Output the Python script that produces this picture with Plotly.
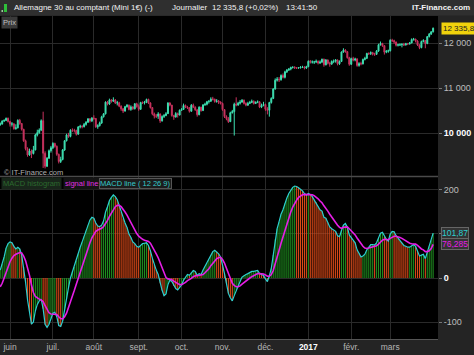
import pandas as pd
import plotly.graph_objects as go

# ---------------- data ----------------
start_date = "2016-05-25"
end_date = "2017-03-31"

open_ = [10190,10205,10272,10286,10333,10263,10204,10208,10103,10121,10288,10217,10088,9834,9657,9519,9606,9550,9631,9962,10015,10071,10280,9557,9268,9448,9612,9680,9776,9710,9532,9373,9418,9629,9833,9964,9930,10068,10066,10063,9981,10142,10156,10147,10198,10247,10319,10275,
10337,10330,10144,10170,10228,10367,10432,10693,10650,10742,10713,10739,10676,10679,10603,10544,10494,10592,10623,10530,10587,10545,10657,10592,10534,10683,10672,10687,10752,10675,10573,10432,10386,10379,10431,10276,10373,10393,10436,10674,10627,10394,10361,10438,10405,
10511,10530,10619,10585,10568,10490,10624,10577,10523,10414,10580,10504,10631,10645,10701,10711,10761,10757,10709,10717,10696,10665,10526,10370,10325,10259,10456,10482,10646,10630,10668,10693,10735,10663,10626,10665,10685,10713,10662,10689,10700,10582,10620,
10640,10534,10513,10684,10775,10986,11179,11203,11190,11285,11244,11366,11404,11427,11464,11468,11456,11450,11455,11473,11475,11451,11481,11599,11584,11585,11585,11599,11563,11583,11646,11522,11630,11555,11541,11599,11599,11630,11545,11595,11807,11848,11815,11681,
11535,11659,11627,11651,11509,11549,11543,11642,11666,11774,11771,11793,11757,11757,11827,11967,11998,11947,11804,11822,11834,12067,12060,12027,11958,11967,11967,11978,11963,11990,11988,12009,12083,12095,12052,11962,11904,12040,12064,11996,12149,12204,12256]

high = [10240,10290,10310,10350,10350,10280,10250,10230,10200,10310,10320,10230,10100,9860,9690,9660,9640,9720,9990,10080,10110,10310,10480,9600,9470,9640,9720,9800,9790,9730,9550,9480,9650,9850,9990,10010,10090,10110,10100,10080,10160,10190,10180,10230,10270,10340,10340,10360,
10400,10340,10200,10260,10390,10450,10710,10720,10770,10760,10800,10760,10720,10700,10620,10560,10610,10650,10640,10620,10600,10670,10680,10640,10700,10710,10720,10770,10770,10690,10580,10460,10430,10470,10440,10400,10430,10470,10690,10690,10630,10410,10470,10460,10530,
10560,10660,10640,10610,10580,10650,10660,10600,10530,10600,10590,10650,10680,10720,10740,10800,10810,10770,10760,10740,10710,10680,10540,10400,10360,10480,10520,10680,10800,10700,10740,10760,10750,10690,10700,10720,10750,10730,10710,10730,10710,10660,10700,
10660,10580,10700,10800,11000,11220,11250,11250,11310,11330,11390,11430,11450,11480,11490,11490,11470,11470,11490,11500,11490,11500,11620,11630,11620,11610,11640,11620,11620,11660,11660,11650,11640,11590,11620,11640,11650,11640,11620,11820,11890,11870,11830,11700,
11680,11700,11680,11670,11580,11590,11660,11700,11790,11800,11820,11810,11790,11850,11990,12040,12010,11960,11850,11860,12090,12100,12080,12040,11990,12000,12000,12010,12010,12010,12030,12110,12120,12100,12070,11980,12060,12090,12070,12160,12230,12270,12350]

low = [10170,10195,10250,10270,10240,10150,10150,10080,10080,10110,10190,10060,9810,9620,9480,9500,9450,9530,9620,9930,9990,10050,9230,9220,9250,9430,9570,9650,9680,9500,9330,9340,9400,9610,9820,9900,9910,10030,10020,9950,9970,10110,10110,10130,10170,10230,10240,10250,
10300,10120,10100,10150,10210,10350,10420,10620,10630,10680,10700,10650,10620,10580,10500,10450,10480,10570,10510,10500,10520,10530,10570,10500,10520,10650,10640,10670,10650,10550,10400,10330,10340,10320,10230,10260,10340,10380,10430,10600,10370,10300,10350,10350,10400,
10500,10520,10560,10540,10460,10480,10560,10500,10370,10400,10480,10500,10610,10620,10660,10700,10730,10680,10680,10650,10640,10500,10340,10290,10230,10250,10440,9950,10600,10610,10640,10680,10640,10600,10610,10650,10670,10640,10650,10670,10560,10560,10600,
10500,10420,10370,10660,10760,10970,11150,11140,11170,11220,11220,11340,11390,11400,11440,11430,11430,11440,11440,11450,11420,11430,11470,11550,11550,11540,11560,11530,11540,11560,11480,11510,11530,11480,11520,11560,11570,11510,11520,11590,11790,11790,11660,11500,
11520,11600,11600,11480,11480,11510,11530,11620,11650,11740,11740,11730,11720,11740,11810,11950,11920,11750,11780,11790,11820,12030,11990,11930,11930,11940,11910,11940,11950,11960,11970,12000,12060,12020,11940,11870,11890,12020,11890,11980,12130,12190,12240]

close = [10205,10272,10286,10333,10263,10204,10208,10103,10121,10288,10217,10088,9834,9657,9519,9606,9550,9631,9962,10015,10071,10280,9557,9268,9448,9612,9680,9776,9710,9532,9373,9418,9629,9833,9964,9930,10068,10066,10063,9981,10142,10156,10147,10198,10247,10319,10275,10337,
10330,10144,10170,10228,10367,10432,10693,10650,10742,10713,10739,10676,10679,10603,10544,10494,10592,10623,10530,10587,10545,10657,10592,10534,10683,10672,10687,10752,10675,10573,10432,10386,10379,10431,10276,10373,10393,10436,10674,10627,10394,10361,10438,10405,10511,
10530,10619,10585,10568,10490,10624,10577,10523,10414,10580,10504,10631,10645,10701,10711,10761,10757,10709,10717,10696,10665,10526,10370,10325,10259,10456,10482,10646,10630,10668,10693,10735,10663,10626,10665,10685,10713,10662,10689,10700,10582,10620,10640,
10534,10513,10684,10775,10986,11179,11203,11190,11285,11244,11366,11404,11427,11464,11468,11456,11450,11455,11473,11475,11451,11481,11599,11584,11585,11585,11599,11563,11583,11646,11522,11630,11555,11541,11599,11599,11630,11545,11595,11807,11848,11815,11681,11535,
11659,11627,11651,11509,11549,11543,11642,11666,11774,11771,11793,11757,11757,11827,11967,11998,11947,11804,11822,11834,12067,12060,12027,11958,11967,11967,11978,11963,11990,11988,12009,12083,12095,12052,11962,11904,12040,12064,11996,12149,12204,12256,12335.8]

macd = [18,32,48,68,78,82,80,72,66,70,66,52,25,-10,-50,-75,-105,-100,-75,-60,-52,-48,-70,-105,-112,-105,-92,-80,-78,-88,-108,-110,-98,-70,-48,-22,0,15,25,40,55,70,82,95,108,120,132,138,
136,125,118,117,120,130,150,162,176,183,189,185,178,165,150,135,125,115,100,92,82,78,72,70,75,78,79,80,74,62,45,30,18,8,-12,-28,-40,-36,-15,-5,-8,-18,-24,-27,-22,
-16,-5,3,8,6,13,17,15,6,10,8,18,26,34,42,52,60,63,60,55,48,32,10,-12,-35,-45,-52,-40,-28,-18,-8,2,6,8,10,12,15,15,16,17,10,7,6,
-2,-8,5,22,52,88,112,128,145,155,170,182,192,200,206,209,208,205,202,198,192,188,192,190,185,178,172,163,155,152,138,136,126,116,112,108,106,96,94,108,120,124,116,98,
92,84,80,64,56,48,50,54,64,70,76,76,75,80,92,102,104,94,88,84,100,106,105,96,90,84,80,74,72,70,70,74,76,72,62,50,52,54,44,58,72,86,101.87]

signal = [-20,-12,0,13,26,37,45,51,54,57,58,57,50,39,23,6,-16,-33,-42,-46,-48,-50,-54,-63,-73,-79,-82,-82,-82,-83,-88,-92,-93,-88,-80,-68,-55,-41,-28,-14,0,14,28,41,54,67,80,91,
100,106,109,111,113,117,123,131,140,148,156,162,165,165,162,157,150,143,134,126,117,109,101,95,91,88,86,85,83,79,72,64,55,46,35,22,10,1,-2,-3,-4,-7,-10,-13,-15,
-15,-13,-10,-6,-4,-1,3,5,5,6,6,8,12,16,21,28,34,40,44,46,47,42,34,22,10,-2,-12,-17,-20,-20,-18,-14,-10,-6,-3,0,3,6,8,10,10,10,9,
7,4,4,8,17,31,47,63,79,94,109,124,137,150,161,170,177,183,187,189,190,190,190,190,189,187,184,180,175,171,164,159,152,145,138,132,127,120,115,113,115,116,116,112,
108,103,98,91,84,77,72,68,67,68,69,70,71,73,77,82,86,88,88,87,90,93,95,95,94,92,90,87,84,81,79,78,78,77,74,69,66,64,60,60,62,67,76.285]

month_labels = ["juin", "juil.", "août", "sept.", "oct.", "nov.", "déc.",
                "<b><span style='color:#ffffff'>2017</span></b>", "févr.", "mars"]
price_ticks = [10000, 11000, 12000]
price_tick_text = ["<b><span style='color:#ffffff'>10 000</span></b>", "11 000", "12 000"]
macd_ticks = [200, 100, 0, -100]
macd_tick_text = ["200", "", "<b><span style='color:#ffffff'>0</span></b>", "-100"]
last_price_text = "12 335,8"
macd_last_text = "101,87"
signal_last_text = "76,285"

# ---------------- build ----------------
dates = pd.bdate_range(start_date, end_date)
xi = list(range(len(dates)))
tickvals = [i for i in range(1, len(dates)) if dates[i].month != dates[i - 1].month]

UP = "#3fe0b2"
DN = "#c8325e"
CYAN = "#2ccfd0"
MAG = "#e61ee6"
GRID = "#2a2a2a"
STRIP = "#242424"
BARG = "#1f8c1f"
BARR = "#dc4a18"

fig = go.Figure()
fig.add_trace(go.Candlestick(
    x=xi, open=open_, high=high, low=low, close=close, xaxis="x", yaxis="y",
    increasing=dict(line=dict(color=UP, width=1), fillcolor=UP),
    decreasing=dict(line=dict(color=DN, width=1), fillcolor=DN),
    whiskerwidth=0, showlegend=False, hoverinfo="skip"))

# MACD histogram: one thin stem per session, green when MACD rises, red when it falls
for col, rising in ((BARG, True), (BARR, False)):
    sx, sy = [], []
    for i in xi:
        up = i == 0 or macd[i] >= macd[i - 1]
        if up == rising:
            sx += [i, i, None]
            sy += [0, macd[i], None]
    fig.add_trace(go.Scatter(x=sx, y=sy, xaxis="x2", yaxis="y2", mode="lines",
                             line=dict(color=col, width=1.1), showlegend=False,
                             hoverinfo="skip", connectgaps=False))

fig.add_trace(go.Scatter(x=xi, y=macd, xaxis="x2", yaxis="y2", mode="lines",
                         line=dict(color=CYAN, width=1.2), showlegend=False, hoverinfo="skip"))
fig.add_trace(go.Scatter(x=xi, y=signal, xaxis="x2", yaxis="y2", mode="lines",
                         line=dict(color=MAG, width=1.6), showlegend=False, hoverinfo="skip"))

W, H = 474, 355
ML, MR, MT, MB = 0, 36, 16, 16
PH = H - MT - MB  # 323
PW = W - ML - MR  # 438
price_dom = [(339 - 176) / PH, 1]
macd_dom = [0, (339 - 177) / PH]

xr = [-0.13, 224.5]
FF = "Liberation Sans, Arial, sans-serif"
axfont = dict(family=FF, size=9, color="#bdbdbd")

fig.update_layout(
    width=W, height=H, autosize=False,
    margin=dict(l=ML, r=MR, t=MT, b=MB, pad=0),
    paper_bgcolor=STRIP, plot_bgcolor="#000000",
    showlegend=False, hovermode=False,
    xaxis=dict(domain=[0, 1], anchor="y", range=xr, tickvals=tickvals, showticklabels=False,
               showgrid=True, gridcolor=GRID, gridwidth=1, zeroline=False, ticks="",
               rangeslider=dict(visible=False), fixedrange=True),
    xaxis2=dict(domain=[0, 1], anchor="y2", matches="x", range=xr, tickvals=tickvals,
                ticktext=month_labels, tickfont=dict(family=FF, size=8.5, color="#b5b5b5"),
                showgrid=True, gridcolor=GRID,
                zeroline=False, ticks="", showline=True, linecolor="#555555", linewidth=1,
                fixedrange=True),
    yaxis=dict(domain=price_dom, anchor="x", range=[9051, 12607], side="right",
               tickvals=price_ticks, ticktext=price_tick_text, tickfont=axfont,
               showgrid=True, gridcolor=GRID, zeroline=False, ticks="outside",
               ticklen=3, tickcolor="#777777", fixedrange=True),
    yaxis2=dict(domain=macd_dom, anchor="x2", range=[-138.6, 229.5], side="right",
                tickvals=macd_ticks, ticktext=macd_tick_text, tickfont=axfont,
                showgrid=True, gridcolor=GRID, zeroline=False, ticks="outside",
                ticklen=3, tickcolor="#777777", fixedrange=True),
)

def py(pix):
    """page pixel row -> paper y"""
    return (H - MB - pix) / PH

def px(pix):
    return (pix - ML) / PW

shapes = [
    dict(type="rect", xref="paper", yref="paper", x0=px(0), x1=px(W), y0=py(15.5), y1=py(0),
         fillcolor="#2f2f2f", line=dict(width=0), layer="above"),
    dict(type="line", xref="paper", yref="paper", x0=0, x1=1, y0=py(176.5), y1=py(176.5),
         line=dict(color="#4a4a4a", width=1.5), layer="above"),
    dict(type="rect", xref="paper", yref="paper", x0=px(4), x1=px(7), y0=py(12), y1=py(4),
         fillcolor="#2fbf3a", line=dict(width=0), layer="above"),
    dict(type="rect", xref="paper", yref="paper", x0=px(1.5), x1=px(3), y0=py(12), y1=py(10),
         fillcolor="#9ad09a", line=dict(width=0), layer="above"),
]
fig.update_layout(shapes=shapes)

tfont = dict(family=FF, size=8, color="#f2f2f2")
ann = [
    dict(text="Allemagne 30 au comptant (Mini 1€) (-)", x=px(12), y=py(7.5), xanchor="left"),
    dict(text="Journalier", x=px(170), y=py(7.5), xanchor="left"),
    dict(text="12 335,8 (+0,02%)", x=px(210), y=py(7.5), xanchor="left"),
    dict(text="13:41:50", x=px(284), y=py(7.5), xanchor="left"),
    dict(text="<b>IT-Finance.com</b>", x=px(472), y=py(7.5), xanchor="right"),
]
annotations = []
for a in ann:
    annotations.append(dict(xref="paper", yref="paper", yanchor="middle", showarrow=False,
                            font=tfont, **a))
small = dict(family=FF, size=7.5)
annotations += [
    dict(text="Prix", xref="paper", yref="paper", x=px(1), y=py(16), xanchor="left", yanchor="top",
         showarrow=False, bgcolor="#3a3a3a", font=dict(small, color="#c0c0c0"), borderpad=1),
    dict(text="© IT-Finance.com", xref="paper", yref="paper", x=px(2), y=py(172.5), xanchor="left",
         yanchor="middle", showarrow=False, font=dict(small, color="#b0b0b0")),
    dict(text="MACD histogram", xref="paper", yref="paper", x=px(1), y=py(183), xanchor="left",
         yanchor="middle", showarrow=False, bgcolor="#18261a", font=dict(small, color="#2c6a2e"),
         borderpad=1),
    dict(text="signal line", xref="paper", yref="paper", x=px(63), y=py(183), xanchor="left",
         yanchor="middle", showarrow=False, bgcolor="#141414", font=dict(small, color="#e030e0"),
         borderpad=1),
    dict(text="MACD line ( 12 26 9)", xref="paper", yref="paper", x=px(99), y=py(183), xanchor="left",
         yanchor="middle", showarrow=False, bgcolor="#1c1c1c", bordercolor="#555555", borderwidth=1,
         font=dict(small, color="#35c9c9"), borderpad=0),
    dict(text=last_price_text, xref="paper", yref="y", x=px(441), y=close[-1], xanchor="left",
         yanchor="middle", showarrow=False, bgcolor="#f0d20c",
         font=dict(family=FF, size=8, color="#222222"), borderpad=1),
    dict(text=macd_last_text, xref="paper", yref="y2", x=px(441), y=macd[-1], xanchor="left",
         yanchor="middle", showarrow=False, bgcolor="#333333", bordercolor="#666666", borderwidth=1,
         font=dict(family=FF, size=8.5, color=CYAN), borderpad=0),
    dict(text=signal_last_text, xref="paper", yref="y2", x=px(441), y=signal[-1], xanchor="left",
         yanchor="middle", showarrow=False, bgcolor="#333333", bordercolor="#666666", borderwidth=1,
         font=dict(family=FF, size=8.5, color=MAG), borderpad=0),
]
fig.update_layout(annotations=annotations)

fig.write_html("out.html")
